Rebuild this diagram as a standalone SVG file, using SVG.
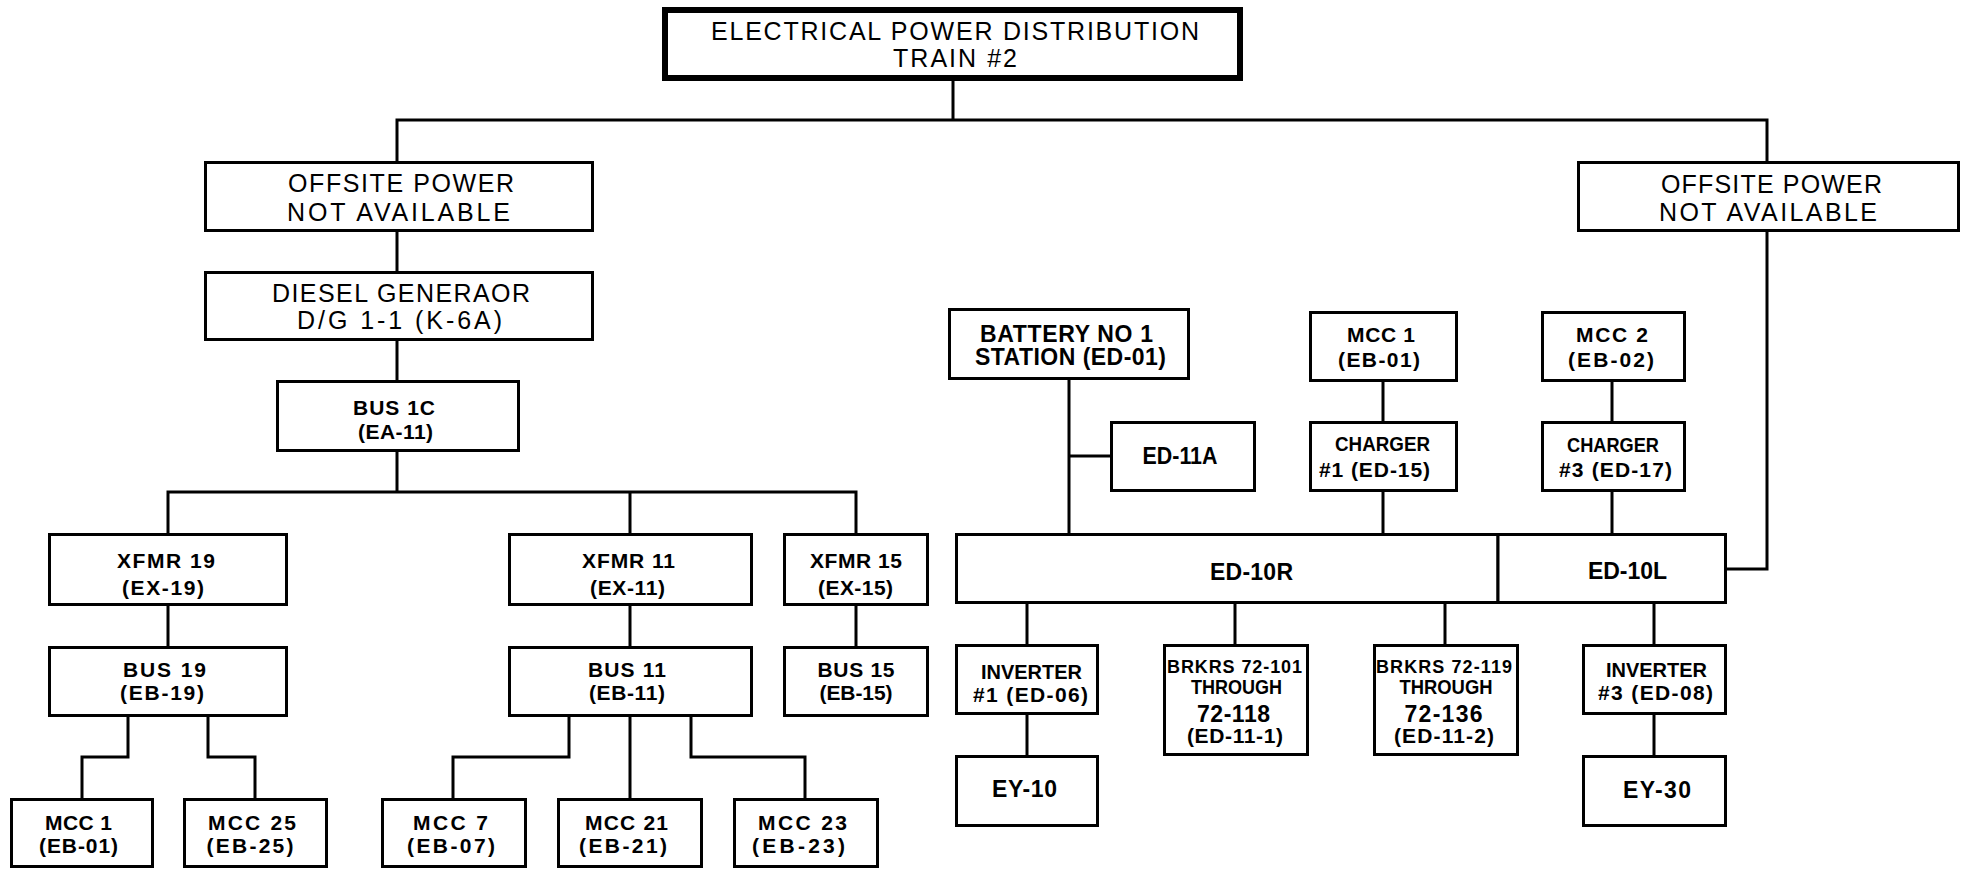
<svg xmlns="http://www.w3.org/2000/svg" width="1968" height="870" viewBox="0 0 1968 870">
<style>
.bg{fill:#fff}
.box{fill:#fff;stroke:#000;stroke-width:3}
.title{fill:#fff;stroke:#000;stroke-width:6}
.wire{fill:none;stroke:#000;stroke-width:3;stroke-linecap:square}
text{font-family:"Liberation Sans",Arial,sans-serif;text-anchor:middle;fill:#000}
.L{font-size:25px}
.M{font-size:23px;font-weight:bold}
.S{font-size:21px;font-weight:bold}
.XS{font-size:18px;font-weight:bold}
</style>
<rect class="bg" x="0" y="0" width="1968" height="870"/>
<g id="connectors">
<path class="wire" d="M953 81V120M397 120H1767M397 120V161M1767 120V161"/>
<path class="wire" d="M397 232V271M397 341V380M397 452V492M168 492H856M168 492V533M630 492V533M856 492V533"/>
<path class="wire" d="M168 606V646M630 606V646M856 606V646"/>
<path class="wire" d="M128 717V757H82V798M208 717V757H255V798"/>
<path class="wire" d="M569 717V757H453V798M630 717V798M691 717V757H805V798"/>
<path class="wire" d="M1069 380V533M1069 456H1110"/>
<path class="wire" d="M1383 382V421M1383 492V533M1612 382V421M1612 492V533"/>
<path class="wire" d="M1767 232V569H1727"/>
<path class="wire" d="M1027 604V644M1235 604V644M1445 604V644M1654 604V644M1027 715V755M1654 715V755"/>
</g>
<g id="title">
<rect class="title" x="665" y="10" width="575" height="68"/>
<text class="L" x="955" y="40" textLength="488">ELECTRICAL POWER DISTRIBUTION</text>
<text class="L" x="955" y="67" textLength="124">TRAIN #2</text>
</g>
<g id="offsite-left">
<rect class="box" x="205.5" y="162.5" width="387" height="68"/>
<text class="L" x="401" y="192" textLength="226">OFFSITE POWER</text>
<text class="L" x="398.5" y="221" textLength="223">NOT AVAILABLE</text>
</g>
<g id="diesel">
<rect class="box" x="205.5" y="272.5" width="387" height="67"/>
<text class="L" x="401" y="302" textLength="258">DIESEL GENERAOR</text>
<text class="L" x="399.5" y="329" textLength="205">D/G 1-1 (K-6A)</text>
</g>
<g id="bus1c">
<rect class="box" x="277.5" y="381.5" width="241" height="69"/>
<text class="S" x="394" y="415" textLength="82">BUS 1C</text>
<text class="S" x="395.5" y="439" textLength="75">(EA-11)</text>
</g>
<g id="xfmr19">
<rect class="box" x="49.5" y="534.5" width="237" height="70"/>
<text class="S" x="166" y="568" textLength="98">XFMR 19</text>
<text class="S" x="163" y="595" textLength="82">(EX-19)</text>
</g>
<g id="xfmr11">
<rect class="box" x="509.5" y="534.5" width="242" height="70"/>
<text class="S" x="628.5" y="568" textLength="93">XFMR 11</text>
<text class="S" x="627.5" y="595" textLength="75">(EX-11)</text>
</g>
<g id="xfmr15">
<rect class="box" x="784.5" y="534.5" width="143" height="70"/>
<text class="S" x="856" y="568" textLength="92">XFMR 15</text>
<text class="S" x="855.5" y="595" textLength="75">(EX-15)</text>
</g>
<g id="bus19">
<rect class="box" x="49.5" y="647.5" width="237" height="68"/>
<text class="S" x="164.5" y="677" textLength="83">BUS 19</text>
<text class="S" x="162" y="700" textLength="84">(EB-19)</text>
</g>
<g id="bus11">
<rect class="box" x="509.5" y="647.5" width="242" height="68"/>
<text class="S" x="627" y="677" textLength="78">BUS 11</text>
<text class="S" x="627" y="700" textLength="76">(EB-11)</text>
</g>
<g id="bus15">
<rect class="box" x="784.5" y="647.5" width="143" height="68"/>
<text class="S" x="856" y="677" textLength="77">BUS 15</text>
<text class="S" x="856" y="700" textLength="73">(EB-15)</text>
</g>
<g id="mcc1-left">
<rect class="box" x="11.5" y="799.5" width="141" height="67"/>
<text class="S" x="78.5" y="830" textLength="67">MCC 1</text>
<text class="S" x="78.5" y="853" textLength="79">(EB-01)</text>
</g>
<g id="mcc25">
<rect class="box" x="184.5" y="799.5" width="142" height="67"/>
<text class="S" x="252" y="830" textLength="88">MCC 25</text>
<text class="S" x="250" y="853" textLength="87">(EB-25)</text>
</g>
<g id="mcc7">
<rect class="box" x="382.5" y="799.5" width="143" height="67"/>
<text class="S" x="450.5" y="830" textLength="75">MCC 7</text>
<text class="S" x="451" y="853" textLength="88">(EB-07)</text>
</g>
<g id="mcc21">
<rect class="box" x="558.5" y="799.5" width="143" height="67"/>
<text class="S" x="626.5" y="830" textLength="83">MCC 21</text>
<text class="S" x="623" y="853" textLength="88">(EB-21)</text>
</g>
<g id="mcc23">
<rect class="box" x="734.5" y="799.5" width="143" height="67"/>
<text class="S" x="802.5" y="830" textLength="89">MCC 23</text>
<text class="S" x="798.5" y="853" textLength="93">(EB-23)</text>
</g>
<g id="offsite-right">
<rect class="box" x="1578.5" y="162.5" width="380" height="68"/>
<text class="L" x="1771.5" y="193" textLength="221">OFFSITE POWER</text>
<text class="L" x="1768" y="221" textLength="218">NOT AVAILABLE</text>
</g>
<g id="battery">
<rect class="box" x="949.5" y="309.5" width="239" height="69"/>
<text class="M" x="1066.5" y="342" textLength="173">BATTERY NO 1</text>
<text class="M" x="1070.5" y="365" textLength="191">STATION (ED-01)</text>
</g>
<g id="ed11a">
<rect class="box" x="1111.5" y="422.5" width="143" height="68"/>
<text class="M" x="1180" y="464" textLength="75" lengthAdjust="spacingAndGlyphs">ED-11A</text>
</g>
<g id="mcc1-right">
<rect class="box" x="1310.5" y="312.5" width="146" height="68"/>
<text class="S" x="1381" y="342" textLength="68">MCC 1</text>
<text class="S" x="1379" y="367" textLength="82">(EB-01)</text>
</g>
<g id="charger1">
<rect class="box" x="1310.5" y="422.5" width="146" height="68"/>
<text class="S" x="1382.5" y="451" textLength="95" lengthAdjust="spacingAndGlyphs">CHARGER</text>
<text class="S" x="1374.5" y="477" textLength="111">#1 (ED-15)</text>
</g>
<g id="mcc2">
<rect class="box" x="1542.5" y="312.5" width="142" height="68"/>
<text class="S" x="1612" y="342" textLength="72">MCC 2</text>
<text class="S" x="1611" y="367" textLength="86">(EB-02)</text>
</g>
<g id="charger3">
<rect class="box" x="1542.5" y="422.5" width="142" height="68"/>
<text class="S" x="1613" y="452" textLength="92" lengthAdjust="spacingAndGlyphs">CHARGER</text>
<text class="S" x="1615.5" y="477" textLength="113">#3 (ED-17)</text>
</g>
<g id="ed10r">
<rect class="box" x="956.5" y="534.5" width="541.5" height="68"/>
<text class="M" x="1251.5" y="580" textLength="83">ED-10R</text>
</g>
<g id="ed10l">
<rect class="box" x="1498" y="534.5" width="227.5" height="68"/>
<text class="M" x="1627.5" y="579" textLength="79">ED-10L</text>
</g>
<g id="inverter1">
<rect class="box" x="956.5" y="645.5" width="141" height="68"/>
<text class="S" x="1031.5" y="679" textLength="101" lengthAdjust="spacingAndGlyphs">INVERTER</text>
<text class="S" x="1030.5" y="702" textLength="115">#1 (ED-06)</text>
</g>
<g id="brkrs1">
<rect class="box" x="1164.5" y="645.5" width="143" height="109"/>
<text class="XS" x="1234.5" y="673" textLength="135">BRKRS 72-101</text>
<text class="S" x="1236.5" y="694" textLength="91" lengthAdjust="spacingAndGlyphs">THROUGH</text>
<text class="M" x="1233.5" y="722" textLength="73">72-118</text>
<text class="S" x="1235" y="743" textLength="96">(ED-11-1)</text>
</g>
<g id="brkrs2">
<rect class="box" x="1374.5" y="645.5" width="143" height="109"/>
<text class="XS" x="1444" y="673" textLength="136">BRKRS 72-119</text>
<text class="S" x="1446" y="694" textLength="93" lengthAdjust="spacingAndGlyphs">THROUGH</text>
<text class="M" x="1443.5" y="722" textLength="78">72-136</text>
<text class="S" x="1444" y="743" textLength="100">(ED-11-2)</text>
</g>
<g id="inverter3">
<rect class="box" x="1583.5" y="645.5" width="142" height="68"/>
<text class="S" x="1656.5" y="677" textLength="101" lengthAdjust="spacingAndGlyphs">INVERTER</text>
<text class="S" x="1655.5" y="700" textLength="115">#3 (ED-08)</text>
</g>
<g id="ey10">
<rect class="box" x="956.5" y="756.5" width="141" height="69"/>
<text class="M" x="1024.5" y="797" textLength="65">EY-10</text>
</g>
<g id="ey30">
<rect class="box" x="1583.5" y="756.5" width="142" height="69"/>
<text class="M" x="1657" y="798" textLength="68">EY-30</text>
</g>
</svg>
